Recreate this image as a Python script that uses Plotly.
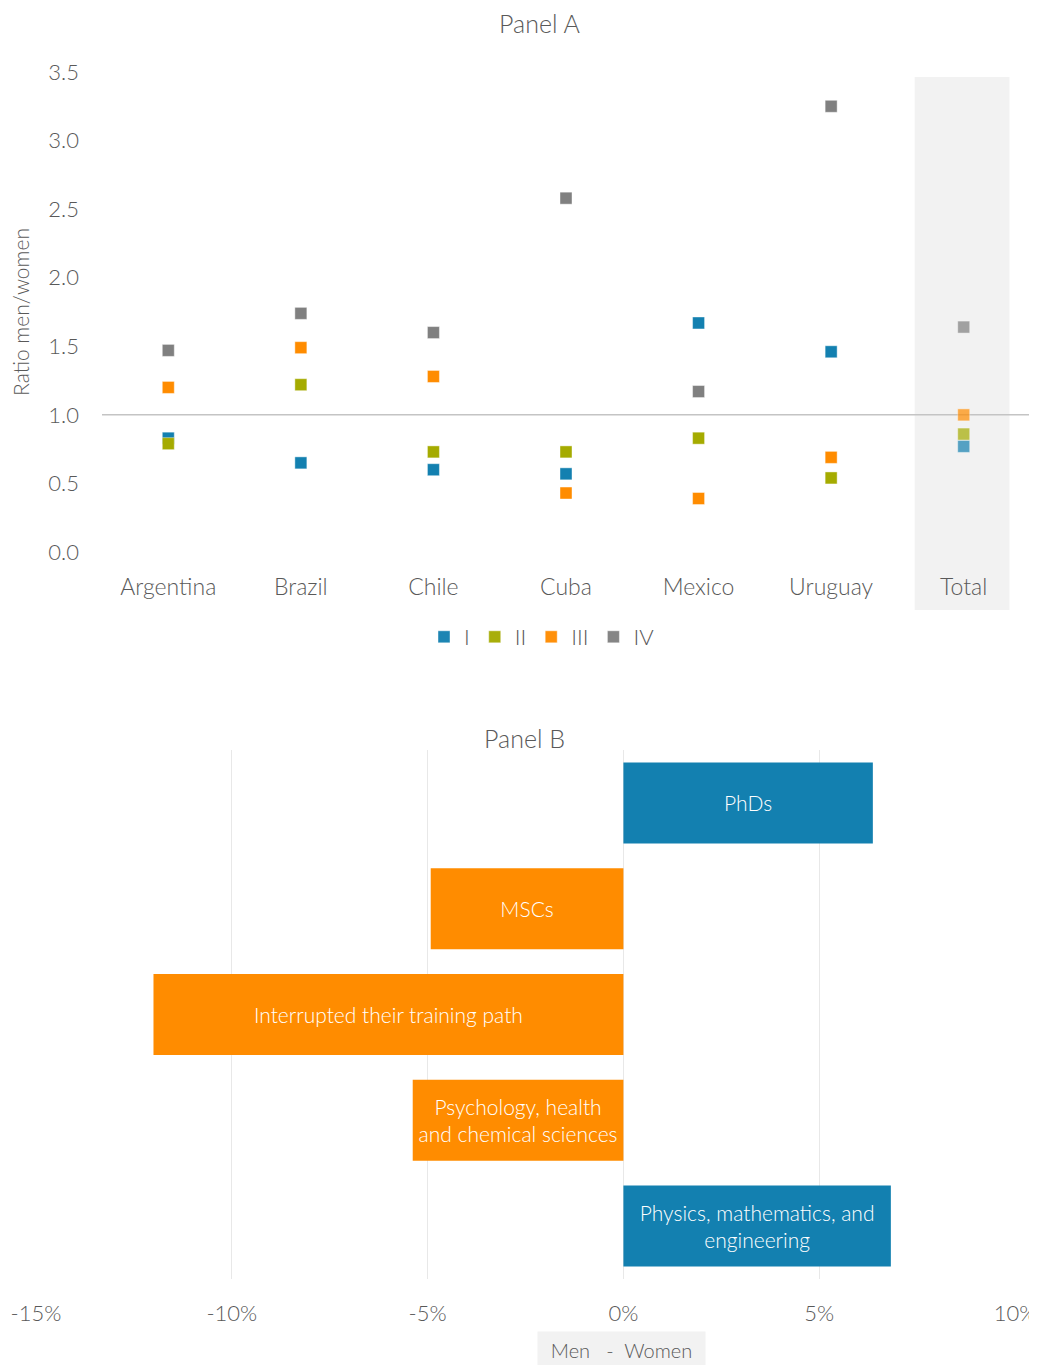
import plotly.graph_objects as go

# ---------------- data ----------------
countries = ["Argentina", "Brazil", "Chile", "Cuba", "Mexico", "Uruguay", "Total"]
series_names = ["I", "II", "III", "IV"]
ratio_I = [0.83, 0.65, 0.60, 0.57, 1.67, 1.46, 0.77]
ratio_II = [0.79, 1.22, 0.73, 0.73, 0.83, 0.54, 0.86]
ratio_III = [1.20, 1.49, 1.28, 0.43, 0.39, 0.69, 1.00]
ratio_IV = [1.47, 1.74, 1.60, 2.58, 1.17, 3.25, 1.64]
y_ticks_a = [0.0, 0.5, 1.0, 1.5, 2.0, 2.5, 3.0, 3.5]

panel_b_labels = ["PhDs", "MSCs", "Interrupted their training path",
                  "Psychology, health<br>and chemical sciences",
                  "Physics, mathematics, and<br>engineering"]
panel_b_values = [0.0637, -0.0492, -0.120, -0.0538, 0.0683]
x_ticks_b = [-0.15, -0.10, -0.05, 0.0, 0.05, 0.10]
x_ticktext_b = [f"{round(v * 100)}%" for v in x_ticks_b]

# ---------------- style ----------------
OFF = 8                      # page body margin
W, H = 1037 - OFF, 1365 - OFF
FONT = "Lato"
TXT = "#595959"
colors = ["#1380b0", "#a5ab00", "#ff8c00", "#808080"]
BLUE, ORANGE = "#1380b0", "#ff8c00"

def px_x(p):
    return (p - OFF) / W

def px_y(p):
    return 1 - (p - OFF) / H

fig = go.Figure()

all_series = [ratio_I, ratio_II, ratio_III, ratio_IV]
for name, vals, col in zip(series_names, all_series, colors):
    fig.add_trace(go.Scatter(
        x=countries, y=vals, mode="markers", name=name,
        marker=dict(symbol="square", size=12, color=col,
                    opacity=[1, 1, 1, 1, 1, 1, 0.7],
                    line=dict(width=0.6, color="rgba(255,255,255,0.7)")),
        xaxis="x", yaxis="y",
    ))

bar_colors = [BLUE if v >= 0 else ORANGE for v in panel_b_values]
fig.add_trace(go.Bar(
    x=panel_b_values, y=panel_b_labels, orientation="h",
    marker=dict(color=bar_colors, line=dict(width=0)),
    text=panel_b_labels, textposition="inside", insidetextanchor="middle",
    textfont=dict(family=FONT, size=21, color="white", weight=300),
    constraintext="none", showlegend=False, hoverinfo="skip",
    xaxis="x2", yaxis="y2",
))

fig.update_layout(
    width=W, height=H,
    margin=dict(l=0, r=0, t=0, b=0, autoexpand=False),
    paper_bgcolor="white", plot_bgcolor="rgba(0,0,0,0)",
    font=dict(family=FONT, color=TXT, size=21, weight=300),
    bargap=0.234,
    xaxis=dict(domain=[px_x(102), px_x(1030)], type="category",
               range=[-0.5, 6.5], showgrid=False, zeroline=False,
               showline=False, ticks="", ticklabelstandoff=19,
               automargin=False,
               tickfont=dict(size=23, color=TXT)),
    yaxis=dict(domain=[px_y(552), px_y(72)], range=[0, 3.5],
               tickvals=y_ticks_a, tickformat=".1f", showgrid=False,
               zeroline=False, showline=False, ticks="",
               ticklabelstandoff=22, automargin=False,
               tickfont=dict(size=22, color=TXT),
               title=dict(text="Ratio men/women", standoff=14,
                          font=dict(size=21, color=TXT))),
    xaxis2=dict(domain=[px_x(36), px_x(1015)], range=[-0.15, 0.10],
                tickvals=x_ticks_b, ticktext=x_ticktext_b, showgrid=True,
                gridcolor="#e8e8e8", gridwidth=1, zeroline=False,
                showline=False, ticks="", ticklabelstandoff=19,
                automargin=False, ticklabeloverflow="allow",
                tickfont=dict(size=22, color=TXT), anchor="y2"),
    yaxis2=dict(domain=[px_y(1279), px_y(750)], autorange="reversed",
                showticklabels=False, showgrid=False, zeroline=False,
                showline=False, ticks="", anchor="x2", automargin=False),
    legend=dict(orientation="h", x=px_x(542), xanchor="center",
                y=px_y(637), yanchor="middle",
                font=dict(size=22, color=TXT), itemwidth=30,
                tracegroupgap=0, bgcolor="rgba(0,0,0,0)"),
    shapes=[
        dict(type="rect", xref="x", yref="paper", x0=5.63, x1=6.345,
             y0=px_y(610), y1=px_y(77), fillcolor="#f2f2f2",
             line=dict(width=0), layer="below"),
        dict(type="line", xref="x domain", yref="y", x0=0, x1=1,
             y0=1, y1=1, line=dict(color="#c4c4c4", width=1.5),
             layer="below"),
    ],
    annotations=[
        dict(text="Panel A", xref="paper", yref="paper", x=px_x(539),
             y=px_y(23), xanchor="center", yanchor="middle",
             showarrow=False, font=dict(size=25, color=TXT)),
        dict(text="Panel B", xref="paper", yref="paper", x=px_x(524),
             y=px_y(738), xanchor="center", yanchor="middle",
             showarrow=False, font=dict(size=25, color=TXT)),
        dict(text="Men   -  Women", xref="paper", yref="paper",
             x=px_x(621), y=px_y(1331), xanchor="center", yanchor="top",
             showarrow=False,
             font=dict(size=20, color=TXT), bgcolor="#f2f2f2",
             borderpad=6, width=155),
    ],
)

fig.write_html("out.html")
